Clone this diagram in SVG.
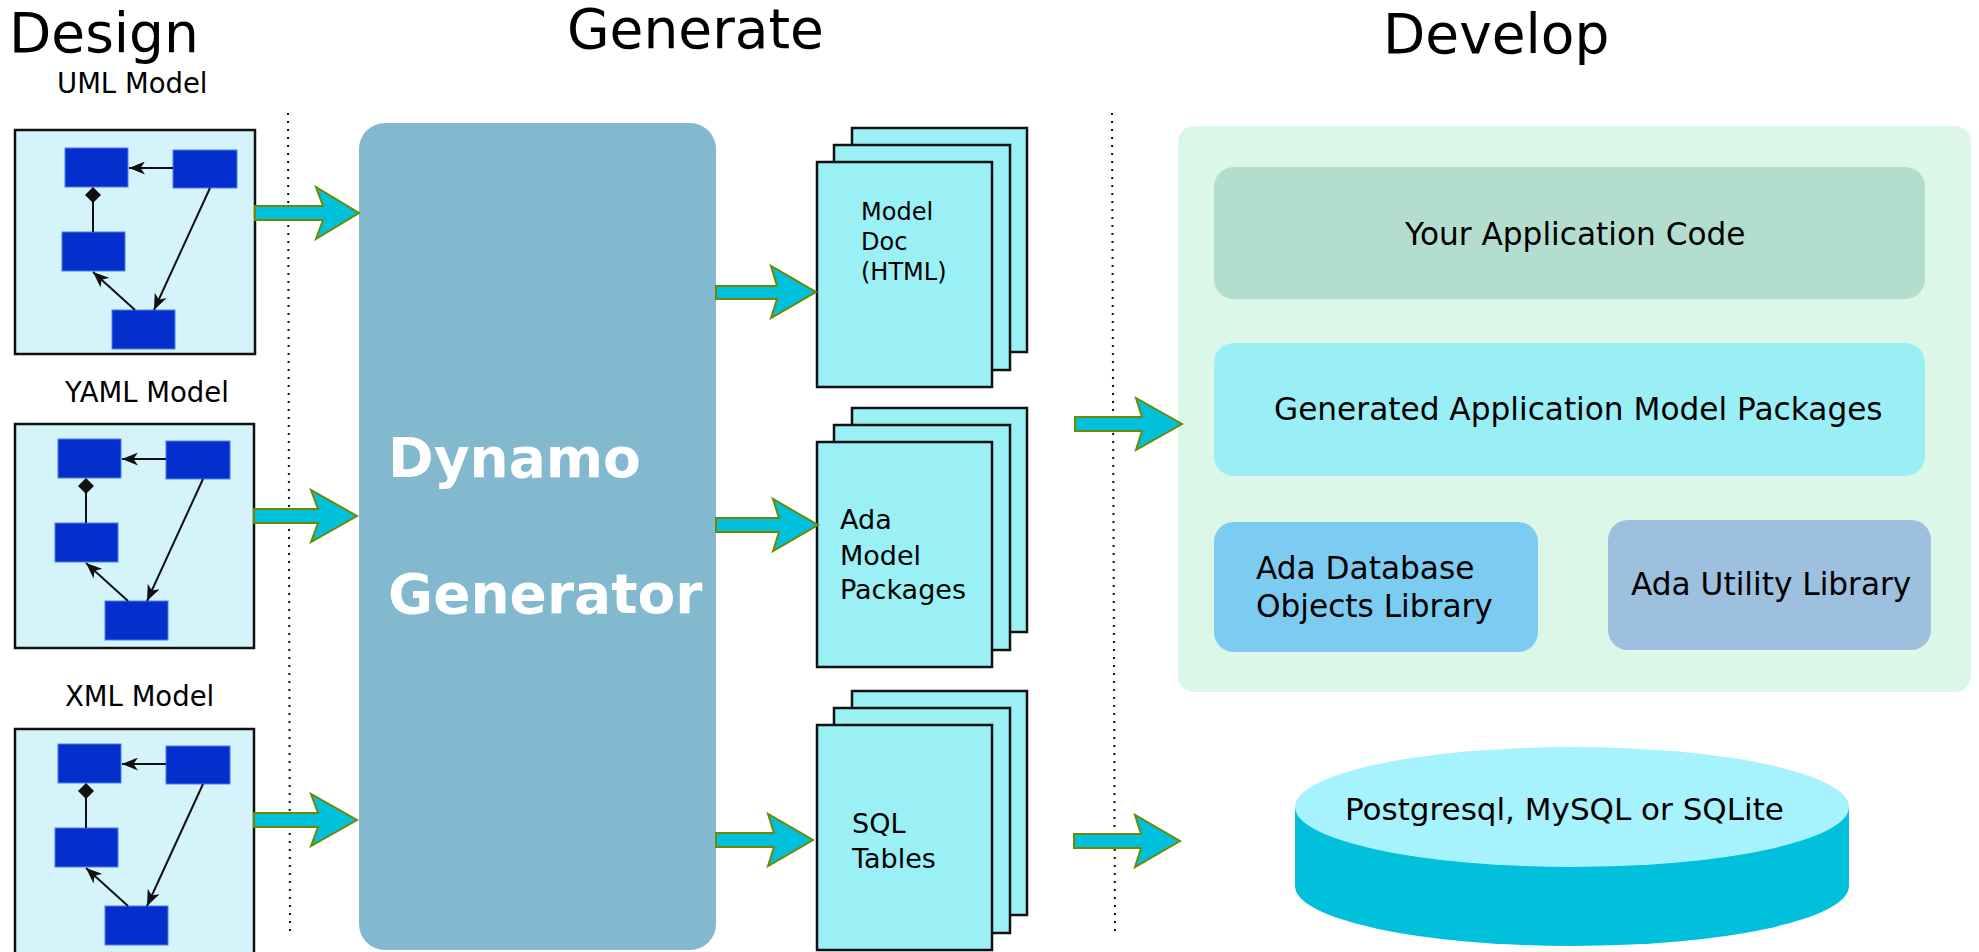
<svg xmlns="http://www.w3.org/2000/svg" xmlns:xlink="http://www.w3.org/1999/xlink" width="1979" height="952" viewBox="0 0 1979 952">
  <style>
    text { font-family: "DejaVu Sans", "Liberation Sans", sans-serif; fill: #000; }
    .title { font-size: 55px; }
    .label { font-size: 27.5px; }
    .model-box { fill: #d5f3fa; stroke: #111; stroke-width: 2.5; }
    .cls { fill: #042fcc; stroke: #4f7fe8; stroke-width: 1; }
    .link { stroke: #111; stroke-width: 2; fill: none; }
    .page { fill: #9af0f5; stroke: #111; stroke-width: 2.5; }
    .doc-text { font-size: 27px; }
    .flow { fill: #00c0dc; stroke: #6b8a00; stroke-width: 2; stroke-linejoin: miter; }
    .sep { stroke: #111; stroke-width: 2; stroke-dasharray: 2 6; fill: none; }
    .layer-text { font-size: 31.2px; }
    .gen-text { font-size: 55px; font-weight: bold; fill: #fff; }
  </style>
  <defs>
    <marker id="ah" viewBox="0 0 16 13" refX="16" refY="6.5" markerWidth="16" markerHeight="13" markerUnits="userSpaceOnUse" orient="auto">
      <path d="M0,0 L16,6.5 L0,13 L4.5,6.5 z" fill="#111"/>
    </marker>
    <!-- small class diagram drawn inside each model box -->
    <g id="classSketch">
      <rect class="cls" x="65" y="148" width="63" height="39"/>
      <rect class="cls" x="173" y="150" width="64" height="38"/>
      <rect class="cls" x="62" y="232" width="63" height="39"/>
      <rect class="cls" x="112" y="310" width="63" height="39"/>
      <line class="link" x1="173" y1="168" x2="129" y2="168" marker-end="url(#ah)"/>
      <line class="link" x1="93" y1="202" x2="93" y2="232"/>
      <path d="M93,187 L101,195 L93,203 L85,195 z" fill="#111"/>
      <line class="link" x1="210" y1="188" x2="154" y2="310" marker-end="url(#ah)"/>
      <line class="link" x1="135" y1="310" x2="93" y2="272" marker-end="url(#ah)"/>
    </g>
  </defs>

  <rect x="0" y="0" width="1979" height="952" fill="#fff"/>

  <!-- column headings -->
  <text class="title" x="9" y="52">Design</text>
  <text class="title" x="567" y="48">Generate</text>
  <text class="title" x="1383" y="53">Develop</text>

  <!-- model sources -->
  <g id="uml-model">
    <text class="label" x="57" y="93">UML Model</text>
    <rect class="model-box" x="15" y="130" width="240" height="224"/>
    <use xlink:href="#classSketch"/>
  </g>
  <g id="yaml-model">
    <text class="label" x="65" y="402">YAML Model</text>
    <rect class="model-box" x="15" y="424" width="239" height="224"/>
    <use xlink:href="#classSketch" transform="translate(-7,291)"/>
  </g>
  <g id="xml-model">
    <text class="label" x="65" y="706">XML Model</text>
    <rect class="model-box" x="15" y="729" width="239" height="230"/>
    <use xlink:href="#classSketch" transform="translate(-7,596)"/>
  </g>

  <!-- generator -->
  <g id="dynamo-generator">
    <rect x="359" y="123" width="357" height="827" rx="26" fill="#83b9cf"/>
    <text class="gen-text" x="388" y="477">Dynamo</text>
    <text class="gen-text" x="388" y="613">Generator</text>
  </g>

  <!-- generated artefacts -->
  <g id="model-doc">
    <rect class="page" x="852" y="128" width="175" height="224"/>
    <rect class="page" x="834" y="145" width="176" height="225"/>
    <rect class="page" x="817" y="162" width="175" height="225"/>
    <text x="861" y="220" font-size="24">Model</text>
    <text x="861" y="250" font-size="24">Doc</text>
    <text x="861" y="280" font-size="24">(HTML)</text>
  </g>
  <g id="ada-packages">
    <rect class="page" x="852" y="408" width="175" height="224"/>
    <rect class="page" x="834" y="425" width="176" height="225"/>
    <rect class="page" x="817" y="442" width="175" height="225"/>
    <text class="doc-text" x="840" y="529">Ada</text>
    <text class="doc-text" x="840" y="565">Model</text>
    <text class="doc-text" x="840" y="599">Packages</text>
  </g>
  <g id="sql-tables">
    <rect class="page" x="852" y="691" width="175" height="224"/>
    <rect class="page" x="834" y="708" width="176" height="225"/>
    <rect class="page" x="817" y="725" width="175" height="225"/>
    <text class="doc-text" x="852" y="833">SQL</text>
    <text class="doc-text" x="852" y="868">Tables</text>
  </g>

  <!-- application layers -->
  <g id="develop-stack">
    <rect x="1178" y="126" width="793" height="566" rx="16" fill="#dcf6e8"/>
    <g id="app-code">
      <rect x="1214" y="167" width="711" height="132" rx="20" fill="#b3ddcf"/>
      <text class="layer-text" x="1405" y="245">Your Application Code</text>
    </g>
    <g id="generated-packages">
      <rect x="1214" y="343" width="711" height="133" rx="20" fill="#99eff5"/>
      <text class="layer-text" x="1274" y="420">Generated Application Model Packages</text>
    </g>
    <g id="ado-library">
      <rect x="1214" y="522" width="324" height="130" rx="20" fill="#7ccbf0"/>
      <text class="layer-text" x="1256" y="579">Ada Database</text>
      <text class="layer-text" x="1256" y="617">Objects Library</text>
    </g>
    <g id="util-library">
      <rect x="1608" y="520" width="323" height="130" rx="20" fill="#9dc0de"/>
      <text class="layer-text" x="1631" y="595">Ada Utility Library</text>
    </g>
  </g>

  <g id="database">
    <path d="M1295,807 L1295,886 A277,60 0 0 0 1849,886 L1849,807 Z" fill="#00c0dc"/>
    <ellipse cx="1572" cy="807" rx="277" ry="60" fill="#a6f2fd"/>
    <text x="1345" y="820" font-size="31">Postgresql, MySQL or SQLite</text>
  </g>

  <!-- phase separators -->
  <g id="separators">
    <line class="sep" x1="288" y1="113" x2="290" y2="937"/>
    <line class="sep" x1="1112" y1="113" x2="1115" y2="937"/>
  </g>

  <!-- flow arrows -->
  <g id="connectors">
    <polygon class="flow" points="255,206 323,206 316,187 359,213 316,239 323,220 255,220"/>
    <polygon class="flow" points="254,509 318,509 311,490 357,516 311,542 318,523 254,523"/>
    <polygon class="flow" points="254,813 318,813 311,794 357,820 311,846 318,827 254,827"/>
    <polygon class="flow" points="716,286 777,286 771,266 816,292 771,318 777,299 716,299"/>
    <polygon class="flow" points="716,518 779,518 773,499 818,525 773,551 779,532 716,532"/>
    <polygon class="flow" points="716,833 774,833 768,814 813,840 768,866 774,847 716,847"/>
    <polygon class="flow" points="1075,417 1142,417 1136,398 1182,424 1136,450 1142,431 1075,431"/>
    <polygon class="flow" points="1074,834 1141,834 1135,815 1180,841 1135,867 1141,848 1074,848"/>
  </g>
</svg>
